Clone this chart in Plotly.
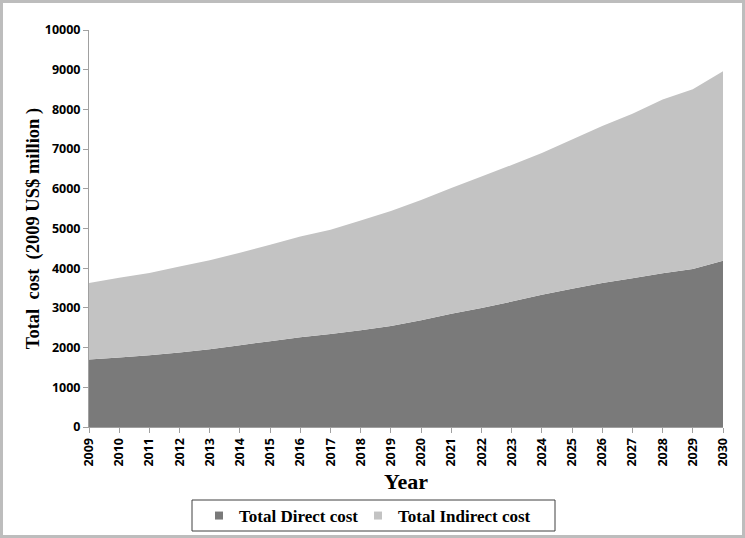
import plotly.graph_objects as go

years = list(range(2009, 2031))
direct_cost = [1700, 1750, 1810, 1875, 1960, 2060, 2160, 2260, 2340, 2440, 2545,
               2690, 2850, 3000, 3160, 3330, 3480, 3630, 3750, 3870, 3980, 4190]
total_cost = [3630, 3760, 3880, 4040, 4200, 4390, 4590, 4800, 4970, 5200, 5440,
              5720, 6020, 6310, 6600, 6900, 7240, 7580, 7890, 8250, 8510, 8960]
indirect_cost = [t - d for t, d in zip(total_cost, direct_cost)]
names = ['Total Direct cost', 'Total Indirect cost']
colors = ['#7a7a7a', '#c3c3c3']

W, H = 745, 538
ml, mr, mt, mb = 89, 22, 30, 111
pw, ph = W - ml - mr, H - mt - mb

def px_x(p):
    return (p - ml) / pw

def px_y(p):
    return (H - mb - p) / ph

fig = go.Figure()
for name, vals, col in zip(names, [direct_cost, indirect_cost], colors):
    fig.add_trace(go.Scatter(x=years, y=vals, name=name, stackgroup='one', mode='none',
                             fillcolor=col, showlegend=False))
# legend entries with small square keys, one legend each so they can be placed
for name, col, lg in zip(names, colors, ['legend', 'legend2']):
    fig.add_trace(go.Scatter(x=[None], y=[None], name=name, mode='markers', legend=lg,
                             marker=dict(symbol='square', size=8, color=col)))

# outer grey frame around the whole picture
fig.add_shape(type='rect', xref='paper', yref='paper',
              x0=px_x(1.5), x1=px_x(W - 1.5), y0=px_y(H - 1.5), y1=px_y(1.5),
              line=dict(color='#bdbdbd', width=3), layer='below')
# legend box
fig.add_shape(type='rect', xref='paper', yref='paper',
              x0=px_x(192), x1=px_x(555), y0=px_y(531), y1=px_y(500),
              line=dict(color='#404040', width=1))

legend_font = dict(family='Liberation Serif', size=17, color='black', weight='bold')
fig.update_layout(
    width=W, height=H,
    margin=dict(l=ml, r=mr, t=mt, b=mb, autoexpand=False),
    paper_bgcolor='white', plot_bgcolor='white',
    legend=dict(orientation='h', x=px_x(199), xanchor='left', y=px_y(516), yanchor='middle',
                font=legend_font, bgcolor='rgba(0,0,0,0)'),
    legend2=dict(orientation='h', x=px_x(358), xanchor='left', y=px_y(516), yanchor='middle',
                 font=legend_font, bgcolor='rgba(0,0,0,0)'),
)
fig.update_xaxes(range=[2009, 2030], tickmode='array', tickvals=years, automargin=False,
                 tickangle=-90, showgrid=False, zeroline=False,
                 showline=True, linecolor='#a0a0a0', ticks='outside', ticklen=5,
                 tickcolor='#a0a0a0',
                 tickfont=dict(family='Open Sans', size=12.5, color='black', weight='bold'),
                 title=dict(text='Year', standoff=8,
                            font=dict(family='Liberation Serif', size=22, color='black', weight='bold')))
fig.update_yaxes(range=[0, 10000], dtick=1000, tickformat='d', automargin=False,
                 showgrid=False, zeroline=False,
                 showline=True, linecolor='#a0a0a0', ticks='outside', ticklen=5,
                 tickcolor='#a0a0a0',
                 tickfont=dict(family='Open Sans', size=12.5, color='black', weight='bold'),
                 title=dict(text='Total  cost  (2009 US$ million )', standoff=0,
                            font=dict(family='Liberation Serif', size=18.5, color='black', weight='bold')))

fig.write_html("out.html", config={'displayModeBar': False},
               post_script="document.body.style.margin='0px';")
